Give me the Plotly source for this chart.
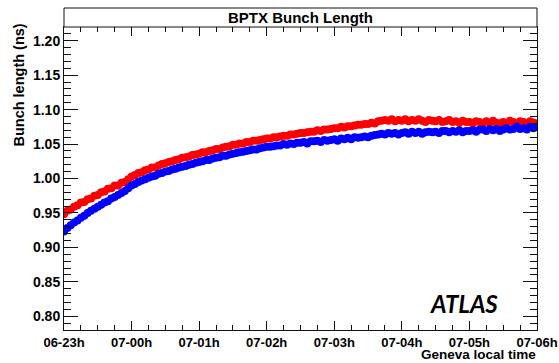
import pandas as pd
import plotly.graph_objects as go

# Sampling times: one reading every 3 minutes from 06-23h to 07-06h
times = pd.date_range("2011-05-06 23:00", periods=141, freq="3min")

# Beam 1 bunch length (ns)
beam1_ns = [
    0.948, 0.953, 0.955, 0.959, 0.961, 0.965, 0.966, 0.970, 0.971, 0.975,
    0.976, 0.980, 0.981, 0.985, 0.986, 0.990, 0.990, 0.994, 0.995, 0.999,
    1.003, 1.005, 1.008, 1.009, 1.012, 1.013, 1.016, 1.016, 1.019, 1.021,
    1.022, 1.024, 1.025, 1.027, 1.028, 1.030, 1.031, 1.032, 1.034, 1.035,
    1.036, 1.038, 1.038, 1.040, 1.041, 1.043, 1.043, 1.045, 1.046, 1.047,
    1.049, 1.049, 1.051, 1.051, 1.053, 1.053, 1.055, 1.055, 1.056, 1.057,
    1.058, 1.058, 1.060, 1.060, 1.061, 1.062, 1.062, 1.064, 1.064, 1.065,
    1.066, 1.066, 1.067, 1.068, 1.068, 1.070, 1.069, 1.071, 1.071, 1.072,
    1.073, 1.073, 1.075, 1.074, 1.076, 1.076, 1.077, 1.078, 1.078, 1.079,
    1.079, 1.081, 1.080, 1.083, 1.084, 1.085, 1.084, 1.086, 1.083, 1.085,
    1.084, 1.086, 1.083, 1.085, 1.084, 1.086, 1.084, 1.082, 1.085, 1.084,
    1.083, 1.085, 1.082, 1.083, 1.085, 1.082, 1.083, 1.081, 1.084, 1.082,
    1.082, 1.080, 1.083, 1.082, 1.080, 1.083, 1.081, 1.084, 1.081, 1.080,
    1.082, 1.081, 1.084, 1.082, 1.080, 1.083, 1.082, 1.080, 1.083, 1.081,
    1.080,
]

# Beam 2 bunch length (ns)
beam2_ns = [
    0.923, 0.928, 0.932, 0.936, 0.939, 0.943, 0.946, 0.950, 0.953, 0.956,
    0.959, 0.962, 0.965, 0.967, 0.971, 0.973, 0.976, 0.979, 0.982, 0.986,
    0.990, 0.992, 0.995, 0.997, 0.999, 1.001, 1.003, 1.004, 1.007, 1.008,
    1.010, 1.011, 1.013, 1.014, 1.016, 1.017, 1.018, 1.020, 1.021, 1.023,
    1.024, 1.025, 1.027, 1.027, 1.029, 1.030, 1.031, 1.033, 1.033, 1.035,
    1.036, 1.037, 1.038, 1.039, 1.040, 1.041, 1.042, 1.042, 1.044, 1.045,
    1.046, 1.046, 1.047, 1.048, 1.048, 1.050, 1.049, 1.051, 1.050, 1.052,
    1.052, 1.053, 1.051, 1.054, 1.054, 1.055, 1.053, 1.056, 1.055, 1.056,
    1.057, 1.055, 1.058, 1.057, 1.059, 1.057, 1.060, 1.059, 1.060, 1.061,
    1.060, 1.062, 1.063, 1.064, 1.065, 1.064, 1.066, 1.065, 1.066, 1.064,
    1.066, 1.067, 1.065, 1.068, 1.066, 1.068, 1.065, 1.067, 1.068, 1.067,
    1.068, 1.066, 1.069, 1.069, 1.067, 1.069, 1.068, 1.070, 1.067, 1.069,
    1.069, 1.070, 1.068, 1.071, 1.071, 1.069, 1.072, 1.070, 1.072, 1.069,
    1.071, 1.073, 1.071, 1.072, 1.075, 1.072, 1.073, 1.071, 1.075, 1.073,
    1.075,
]

FONT = "Liberation Sans, Arial, sans-serif"
AXIS_COLOR = "#111111"

fig = go.Figure()
for values, color in ((beam1_ns, "#ff0000"), (beam2_ns, "#0000ff")):
    fig.add_trace(go.Scatter(
        x=times, y=values, mode="markers",
        marker=dict(symbol="circle", size=8, color=color, line=dict(width=0)),
        showlegend=False, cliponaxis=True,
    ))

fig.update_layout(
    width=559, height=363,
    margin=dict(l=64, r=22, t=27, b=33, autoexpand=False),
    paper_bgcolor="white", plot_bgcolor="white",
    font=dict(family=FONT, size=14, color="black"),
)

fig.update_xaxes(
    type="date", automargin=False,
    range=["2011-05-06 23:00", "2011-05-07 06:00"],
    dtick=3600000, tick0="2011-05-06 23:00", tickformat="%d-%Hh",
    ticks="inside", ticklen=9, tickwidth=1, tickcolor=AXIS_COLOR,
    minor=dict(ticks="inside", ticklen=5, dtick=900000, tickcolor=AXIS_COLOR, showgrid=False),
    showline=True, linecolor=AXIS_COLOR, linewidth=1, mirror="allticks",
    showgrid=False, zeroline=False, ticklabeloverflow="allow",
    tickfont=dict(family=FONT, size=13, weight="bold"),
)

fig.update_yaxes(
    automargin=False,
    range=[0.78, 1.22], dtick=0.05, tick0=0.8, tickformat=".2f",
    ticks="inside", ticklen=14, tickwidth=1, tickcolor=AXIS_COLOR,
    minor=dict(ticks="inside", ticklen=7, dtick=0.01, tickcolor=AXIS_COLOR, showgrid=False),
    showline=True, linecolor=AXIS_COLOR, linewidth=1, mirror="allticks",
    showgrid=False, zeroline=False,
    tickfont=dict(family=FONT, size=14, weight="bold"),
)

# Title box above the frame
fig.add_shape(type="rect", xref="paper", yref="paper",
              x0=0, x1=1, y0=1, y1=1.0627,
              line=dict(color=AXIS_COLOR, width=1), fillcolor="white")

fig.add_annotation(text="<b>BPTX Bunch Length</b>", xref="paper", yref="paper",
                   x=0.5, y=1.0314, xanchor="center", yanchor="middle",
                   showarrow=False, font=dict(family=FONT, size=15))

fig.add_annotation(text="<b>Bunch length (ns)</b>", xref="paper", yref="paper",
                   x=-0.095, y=0.807, xanchor="center", yanchor="middle",
                   textangle=-90, showarrow=False, font=dict(family=FONT, size=14.5))

fig.add_annotation(text="<b>Geneva local time</b>", xref="paper", yref="paper",
                   x=1.0, y=-0.1085, xanchor="right", yanchor="bottom",
                   borderpad=0, showarrow=False, font=dict(family=FONT, size=13.5))

fig.add_annotation(text="<b><i>ATLAS</i></b>", xref="paper", yref="paper",
                   x=0.922, y=0.089, xanchor="right", yanchor="middle",
                   showarrow=False, font=dict(family="Lato, sans-serif", size=24))

fig.write_html("out.html")
